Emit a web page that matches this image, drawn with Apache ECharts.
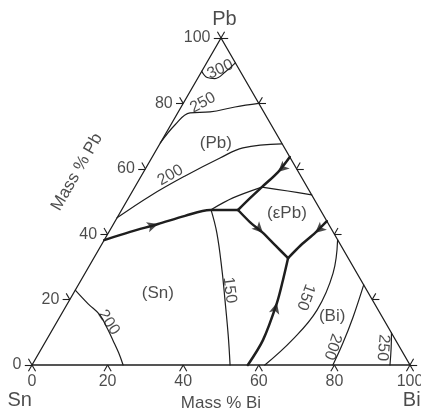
<!DOCTYPE html>
<html><head><meta charset="utf-8">
<script src="https://cdn.jsdelivr.net/npm/echarts@6/dist/echarts.min.js"></script>
<style>html,body{margin:0;padding:0;background:#fff}#c{width:421px;height:413px}</style>
</head><body><div id="c"></div>
<script>
// ---- data: compositions as [Bi %, Pb %] (Sn = remainder) ----
const tickValues = [0, 20, 40, 60, 80, 100];
const vertexNames = ['Sn', 'Bi', 'Pb'];
const vertexLabelAt = [[2.2, -10.9], [105.9, -10.9], [-1.95, 105.7]];
const axisTitles = ['Mass % Bi', 'Mass % Pb'];
const axisTitleAt = [[55.8, -11.6], [-17.6, 59.0]];

// univariant valleys (thick lines), listed in direction of falling temperature
const valleySnPb = [[0, 38.2], [5.6, 40.7], [11.8, 43.1], [17.7, 45.6], [23.4, 47.4], [30.8, 47.4]];
const valleyPeritectic = [[36.4, 63.6], [35.6, 59.0], [33.6, 54.4], [32.2, 51.1], [30.8, 47.4]];
const valleyUtoE = [[30.8, 47.4], [35.8, 43.7], [40.9, 40.4], [45.9, 36.7], [51.4, 32.7]];
const valleyPbBi = [[56.0, 44.0], [54.7, 40.4], [52.7, 36.4], [51.4, 32.7]];
const valleySnBi = [[57.1, 0], [57.3, 7.6], [55.3, 19.0], [53.4, 26.0], [51.4, 32.7]];

// arrows on valleys: position and a point further along
const arrowAt = [[11.8, 43.1], [35.6, 59.0], [40.9, 40.4], [54.7, 40.4], [55.3, 19.0]];
const arrowToward = [[17.7, 45.6], [33.6, 54.4], [45.9, 36.7], [52.7, 36.4], [53.4, 26.0]];

// liquidus isotherms (thin lines)
const iso200Sn = [[0, 22.9], [5.5, 18.7], [10.3, 15.3], [14.5, 11.0], [17.6, 7.6], [21.0, 3.8], [24.1, 0]];
const iso150Sn = [[23.6, 47.5], [28.7, 40.4], [35.7, 29.1], [41.1, 19.9], [47.3, 9.2], [52.4, 0]];
const iso150Upper = [[23.6, 47.5], [27.6, 51.1], [33.6, 54.4]];
const iso150Eps = [[33.6, 54.4], [41.1, 53.2], [48.0, 52.0]];
const iso200Pb = [[0, 45.0], [5.4, 51.7], [11.6, 57.8], [18.1, 63.3], [22.6, 66.4], [32.3, 67.6]];
const iso250Pb = [[0, 67.9], [1.1, 73.4], [3.25, 77.1], [8.4, 77.4], [14.25, 78.9], [20.0, 80.0]];
const iso300Pb = [[0, 89.8], [2.4, 87.9], [4.6, 87.6], [6.3, 89.6], [7.6, 92.4]];
const iso150Bi = [[61.7, 38.3], [65.6, 28.1], [67.0, 16.8], [65.0, 7.6], [61.6, 0]];
const iso200Bi = [[75.5, 24.5], [77.6, 14.7], [78.9, 6.7], [79.6, 0]];
const iso250Bi = [[90.2, 9.8], [92.5, 5.0], [94.7, 0]];

const isoLabelText = ['300', '250', '200', '200', '150', '150', '200', '250'];
const isoLabelAt = [[4.6, 90.4], [5.1, 80.2], [7.6, 58.0], [13.8, 13.0], [40.8, 22.9], [62.0, 20.8], [76.7, 5.6], [90.2, 5.3]];
const isoLabelAngle = [25, 28, 30, -57, -83, -110, -108, -95];

const regionNames = ['(Sn)', '(Pb)', '(\u03B5Pb)', '(Bi)'];
const regionAt = [[22.3, 22.0], [14.7, 67.9], [44.2, 46.5], [71.9, 15.0]];

// ---- helpers ----
const S3 = Math.sqrt(3) / 2;
function tern(c) { return [c[0] + c[1] / 2, c[1] * S3]; }
const FONT = '"Liberation Sans", Arial, Helvetica, sans-serif';
const INK = '#1e1e1e';

function curve(pts, width, smooth) {
  return {
    type: 'line', data: pts.map(tern), symbol: 'none', showSymbol: false,
    smooth: smooth, clip: false, silent: true, z: width > 2 ? 4 : 3,
    lineStyle: { color: INK, width: width, cap: 'round', join: 'round' }
  };
}

// tick segments (short pieces of grid lines outside the triangle)
const L = 1.9;
const ticks = [];
tickValues.forEach(v => {
  const pl = tern([0, v]);          // Sn-Pb edge
  ticks.push([pl, [pl[0] - L, pl[1]]]);
  ticks.push([pl, [pl[0] - L * 0.5, pl[1] + L * S3]]);
  const pb = tern([v, 0]);          // Sn-Bi edge
  ticks.push([pb, [pb[0] - L * 0.5, pb[1] - L * S3]]);
  ticks.push([pb, [pb[0] + L * 0.5, pb[1] - L * S3]]);
  const pr = tern([100 - v, v]);    // Bi-Pb edge
  ticks.push([pr, [pr[0] + L, pr[1]]]);
  ticks.push([pr, [pr[0] + L * 0.5, pr[1] + L * S3]]);
});

function textItem(pos, text, opts) {
  return {
    value: tern(pos),
    label: Object.assign({ show: true, formatter: text, position: 'inside' }, opts || {})
  };
}

const labelData = [];
tickValues.forEach(v => {
  labelData.push(textItem([0, v], String(v), { position: 'left', distance: 10, fontSize: 16 }));
  labelData.push(textItem([v, 0], String(v), { position: 'bottom', distance: 8, fontSize: 16 }));
});
vertexNames.forEach((n, i) => labelData.push(textItem(vertexLabelAt[i], n, { fontSize: 20 })));
labelData.push(textItem(axisTitleAt[0], axisTitles[0], { fontSize: 17 }));
labelData.push(textItem(axisTitleAt[1], axisTitles[1], { fontSize: 17, rotate: 60 }));
regionNames.forEach((n, i) => labelData.push(textItem(regionAt[i], n, { fontSize: 17 })));
isoLabelText.forEach((t, i) => labelData.push(textItem(isoLabelAt[i], t, { fontSize: 16, rotate: isoLabelAngle[i] })));

const arrowData = arrowAt.map((a, i) => {
  const p = tern(a), q = tern(arrowToward[i]);
  const ang = Math.atan2(q[1] - p[1], q[0] - p[0]) * 180 / Math.PI;
  return { value: p, symbolRotate: ang - 90 };
});

const option = {
  animation: false,
  backgroundColor: '#fff',
  textStyle: { fontFamily: FONT },
  grid: { left: 0, right: 0, top: 0, bottom: 0 },
  xAxis: { type: 'value', min: -8.466, max: 102.91, show: false },
  yAxis: { type: 'value', min: -12.71, max: 96.66, show: false },
  series: [
    curve([[0, 0], [100, 0], [0, 100], [0, 0]], 1.3, false),
    {
      type: 'lines', coordinateSystem: 'cartesian2d', silent: true, z: 3,
      data: ticks.map(s => ({ coords: s })),
      lineStyle: { color: INK, width: 1.1, opacity: 1 }
    },
    curve(iso200Sn, 1.2, 0.4),
    curve(iso150Sn, 1.2, 0.4),
    curve(iso150Upper, 1.2, 0.3),
    curve(iso150Eps, 1.2, 0.3),
    curve(iso200Pb, 1.2, 0.4),
    curve(iso250Pb, 1.2, 0.4),
    curve(iso300Pb, 1.2, 0.4),
    curve(iso150Bi, 1.2, 0.4),
    curve(iso200Bi, 1.2, 0.4),
    curve(iso250Bi, 1.2, 0.4),
    curve(valleySnPb, 2.5, 0.3),
    curve(valleyPeritectic, 2.5, 0.3),
    curve(valleyUtoE, 2.5, 0.2),
    curve(valleyPbBi, 2.5, 0.2),
    curve(valleySnBi, 2.5, 0.3),
    {
      type: 'scatter', data: arrowData, symbol: 'arrow', symbolSize: [8, 11],
      itemStyle: { color: INK }, silent: true, z: 5, clip: false
    },
    {
      type: 'scatter', data: labelData, symbolSize: 1, silent: true, z: 6, clip: false,
      itemStyle: { color: 'rgba(0,0,0,0)' },
      label: { show: true, color: INK, fontFamily: FONT }
    }
  ]
};
const chart = echarts.init(document.getElementById('c'), null, { renderer: 'canvas' });
chart.setOption(option);
</script>
</body></html>
